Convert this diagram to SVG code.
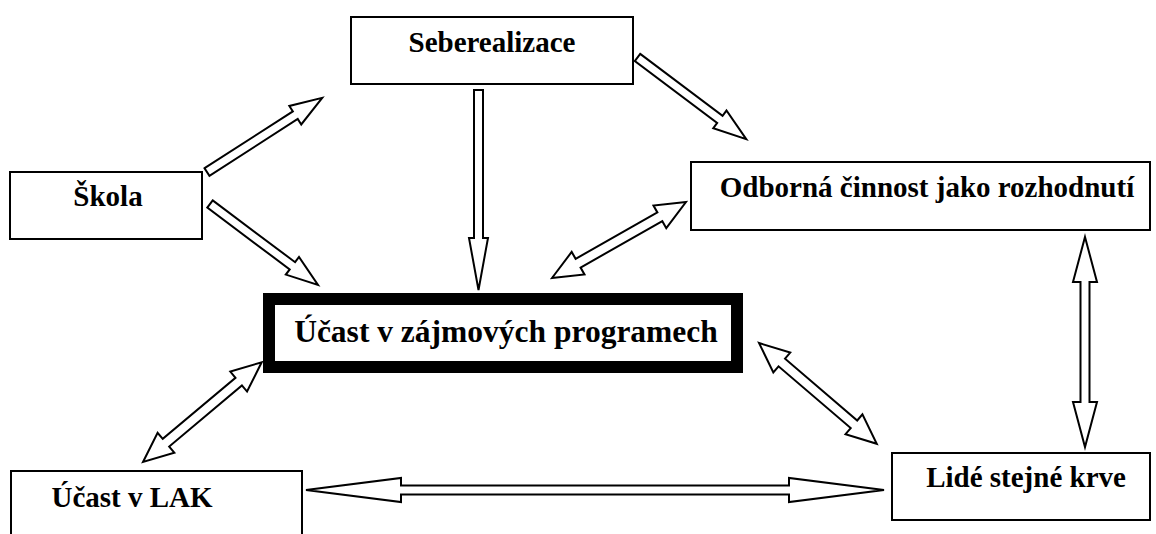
<svg xmlns="http://www.w3.org/2000/svg" width="1156" height="534" viewBox="0 0 1156 534">
  <style>
    .box { fill: #ffffff; stroke: #000000; stroke-width: 2; }
    .main { fill: #ffffff; stroke: #000000; stroke-width: 12; }
    .lbl { font-family: "Liberation Serif", "Times New Roman", serif; font-weight: bold; font-size: 29px; fill: #000000; text-anchor: middle; }
    .big { font-size: 31.5px; }
    .arr { fill: #ffffff; stroke: #000000; stroke-width: 2; stroke-linejoin: miter; }
  </style>
  <rect width="1156" height="534" fill="#ffffff"/>

  <g id="node-seberealizace">
    <rect class="box" x="351" y="17" width="282" height="67"/>
    <text class="lbl" x="492" y="52">Seberealizace</text>
  </g>
  <g id="node-skola">
    <rect class="box" x="10" y="172" width="192" height="67"/>
    <text class="lbl" x="108" y="206">Škola</text>
  </g>
  <g id="node-odborna">
    <rect class="box" x="691" y="162" width="459" height="68"/>
    <text class="lbl" x="927" y="197">Odborná činnost jako rozhodnutí</text>
  </g>
  <g id="node-ucast-programy">
    <rect class="main" x="269" y="299" width="468" height="68"/>
    <text class="lbl big" x="506" y="342">Účast v zájmových programech</text>
  </g>
  <g id="node-ucast-lak">
    <rect class="box" x="11" y="471" width="291" height="80"/>
    <text class="lbl" x="132" y="507">Účast v LAK</text>
  </g>
  <g id="node-lide">
    <rect class="box" x="892" y="453" width="258" height="67"/>
    <text class="lbl" x="1026" y="487">Lidé stejné krve</text>
  </g>

  <g id="connectors">
    <!-- Škola -> Seberealizace -->
    <polygon class="arr" transform="translate(207,172) rotate(-32.76)" points="0,-4.5 105,-4.5 105,-11 137,0 105,11 105,4.5 0,4.5"/>
    <!-- Škola -> main -->
    <polygon class="arr" transform="translate(210,204) rotate(36.87)" points="0,-4.5 103,-4.5 103,-11 135,0 103,11 103,4.5 0,4.5"/>
    <!-- Seberealizace -> main -->
    <polygon class="arr" points="474,90 483,90 483,238 488,238 478.5,290 469,238 474,238"/>
    <!-- Seberealizace -> Odborná -->
    <polygon class="arr" transform="translate(637.5,57.5) rotate(36.9)" points="0,-4.5 103,-4.5 103,-11 136,0 103,11 103,4.5 0,4.5"/>
    <!-- main <-> Odborná -->
    <polygon class="arr" transform="translate(552,278) rotate(-29.56)" points="0,0 30,-13 30,-5 124,-5 124,-13 154,0 124,13 124,5 30,5 30,13"/>
    <!-- main <-> Účast v LAK -->
    <polygon class="arr" transform="translate(143,462) rotate(-40.04)" points="0,0 30,-13 30,-5 125,-5 125,-13 155,0 125,13 125,5 30,5 30,13"/>
    <!-- main <-> Lidé stejné krve -->
    <polygon class="arr" transform="translate(759,343) rotate(40.56)" points="0,0 30,-13 30,-5 125,-5 125,-13 155,0 125,13 125,5 30,5 30,13"/>
    <!-- Odborná <-> Lidé stejné krve -->
    <polygon class="arr" points="1085,237 1097,282 1089.5,282 1089.5,402 1097,402 1085,447 1073,402 1080.5,402 1080.5,282 1073,282"/>
    <!-- Účast v LAK <-> Lidé stejné krve -->
    <polygon class="arr" points="306,490 401,478 401,485.5 789,485.5 789,478 884,490 789,502 789,494.5 401,494.5 401,502"/>
  </g>
</svg>
